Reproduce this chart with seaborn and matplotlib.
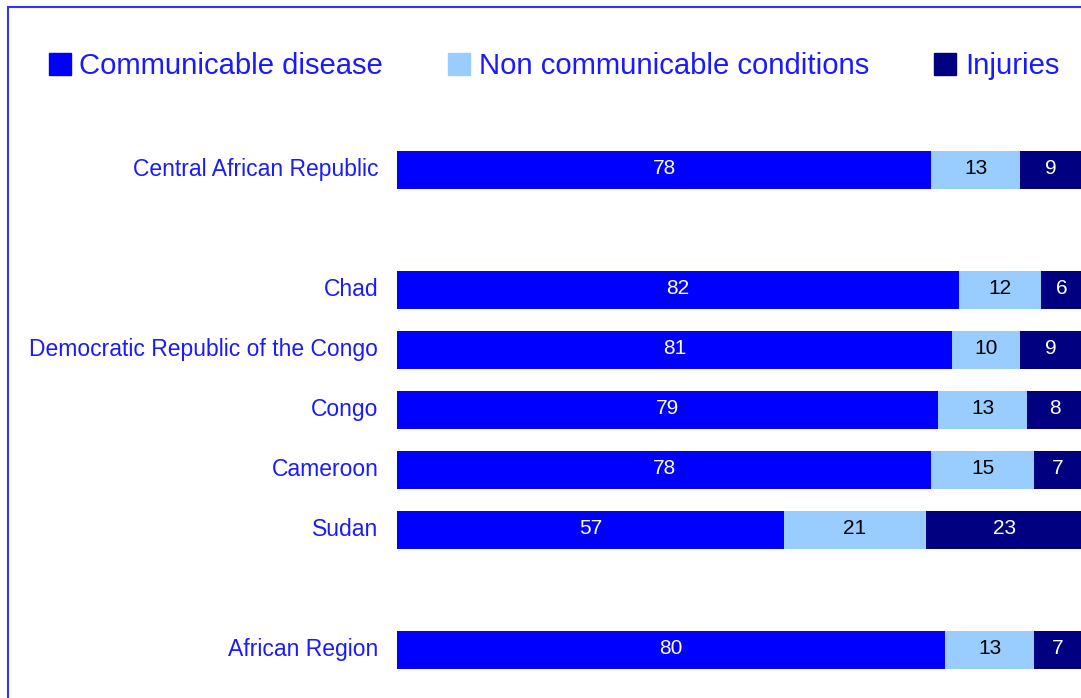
import pandas as pd
import matplotlib.pyplot as plt
import matplotlib.patches as mpatches
import matplotlib.transforms as mtransforms
import seaborn as sns

# Share of deaths by cause (%), one row per country
countries = ['Central African Republic', 'Chad', 'Democratic Republic of the Congo',
             'Congo', 'Cameroon', 'Sudan', 'African Region']
communicable = [78, 82, 81, 79, 78, 57, 80]
noncommunicable = [13, 12, 10, 13, 15, 21, 13]
injuries = [9, 6, 9, 8, 7, 23, 7]

# empty slots separate the groups of bars
order = ['Central African Republic', ' ', 'Chad', 'Democratic Republic of the Congo',
         'Congo', 'Cameroon', 'Sudan', '  ', 'African Region']

c_blue = '#0000ff'
c_light = '#99ccff'
c_navy = '#000080'

df = pd.DataFrame({'country': countries, 'comm': communicable,
                   'noncomm': noncommunicable, 'inj': injuries})
total = df['comm'] + df['noncomm'] + df['inj']
# 100% stacked: each row scaled to its total
df['p1'] = df['comm'] / total * 100
df['p2'] = df['noncomm'] / total * 100
df['p3'] = df['inj'] / total * 100
df['cum2'] = df['p1'] + df['p2']
df['cum3'] = df['cum2'] + df['p3']

plt.rcParams['font.family'] = ['Liberation Sans', 'DejaVu Sans']
fig = plt.figure(figsize=(10.81, 6.98), dpi=100)
ax = fig.add_axes([0.3673, 0.0258, 0.6337, 0.7736])

kw = dict(y='country', orient='y', order=order, width=0.62, linewidth=0,
          saturation=1, ax=ax)
sns.barplot(data=df, x='cum3', color=c_navy, **kw)
sns.barplot(data=df, x='cum2', color=c_light, **kw)
sns.barplot(data=df, x='p1', color=c_blue, **kw)

for _, r in df.iterrows():
    y = order.index(r['country'])
    ax.text(r['p1'] / 2, y - 0.02, f"{r['comm']}", ha='center', va='center',
            color='white', fontsize=15)
    ax.text(r['p1'] + r['p2'] / 2, y - 0.02, f"{r['noncomm']}", ha='center', va='center',
            color='black', fontsize=15)
    ax.text(r['cum2'] + r['p3'] / 2, y - 0.02, f"{r['inj']}", ha='center', va='center',
            color='white', fontsize=15)

ax.set_xlim(0, 100)
ax.set_ylim(len(order) - 0.5, -0.5)
ax.set_xlabel('')
ax.set_ylabel('')
ax.set_xticks([])
ax.tick_params(axis='y', length=0, pad=13.5, labelsize=16.5, labelcolor='#1a1aff')
shift = mtransforms.ScaledTranslation(0, 3 / 100, fig.dpi_scale_trans)
for lab in ax.get_yticklabels():
    lab.set_transform(lab.get_transform() + shift)
for s in ax.spines.values():
    s.set_visible(False)

handles = [mpatches.Patch(color=c_blue, label='Communicable disease'),
           mpatches.Patch(color=c_light, label='Non communicable conditions'),
           mpatches.Patch(color=c_navy, label='Injuries')]
leg = fig.legend(handles=handles, loc='lower left', ncol=3, mode='expand',
                 bbox_to_anchor=(0.045, 0.885, 0.935, 0.06), frameon=False,
                 fontsize=21.1, handlelength=0.75, handleheight=0.75,
                 handletextpad=0.3, borderaxespad=0, borderpad=0)
for t in leg.get_texts():
    t.set_color('#1a1aff')

# outer frame (top and left edges visible)
fig.patches.append(mpatches.Rectangle((0.0074, -0.1), 1.2, 1.09, transform=fig.transFigure,
                                      fill=False, edgecolor='#3333ff', linewidth=1.5))

plt.savefig('out.png', dpi=100)
